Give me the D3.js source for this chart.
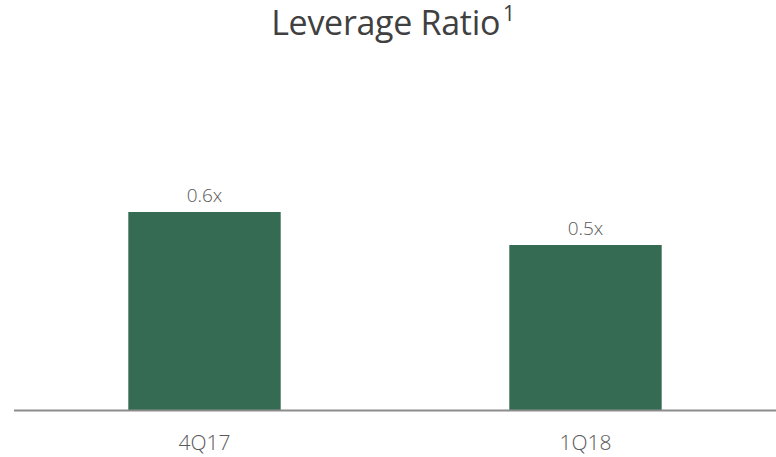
<!DOCTYPE html>
<html><head><meta charset="utf-8">
<script src="https://cdn.jsdelivr.net/npm/d3@7"></script>
<style>body{margin:0;background:#fff}svg{display:block}</style>
</head><body><svg id="c" width="776" height="457"></svg>
<script>
const categories = ["4Q17", "1Q18"];
const values = [0.6, 0.5];
const valueLabels = ["0.6x", "0.5x"];
const title = "Leverage Ratio";
const titleSup = "1";

const svg = d3.select("#c");
const x = d3.scaleBand().domain(categories).range([14, 776]).paddingInner(0.6).paddingOuter(0.3);
const y = d3.scaleLinear().domain([0, 1.2]).range([410, 14]);
const font = "'Open Sans', sans-serif";

const t = svg.append("text").attr("x", 393).attr("y", 35).attr("text-anchor", "middle")
  .attr("font-family", font).attr("font-size", 34).attr("letter-spacing", -0.3).attr("fill", "#404040");
t.append("tspan").text(title);
t.append("tspan").attr("dy", -14).attr("font-size", 21).attr("dx", 3).text(titleSup);

svg.selectAll("rect.bar").data(values).join("rect").attr("class", "bar")
  .attr("x", (d, i) => x(categories[i])).attr("width", x.bandwidth())
  .attr("y", d => y(d)).attr("height", d => y(0) - y(d)).attr("fill", "#356b53");

svg.selectAll("text.vl").data(values).join("text").attr("class", "vl")
  .attr("x", (d, i) => x(categories[i]) + x.bandwidth() / 2).attr("y", d => y(d) - 10)
  .attr("text-anchor", "middle").attr("font-family", font).attr("font-weight", 300)
  .attr("font-size", 19).attr("fill", "#595959").text((d, i) => valueLabels[i]);

const ax = svg.append("g").attr("transform", "translate(0,410)")
  .call(d3.axisBottom(x).tickSize(0).tickPadding(25).tickSizeOuter(0));
ax.select(".domain").attr("stroke", "#8c8c8c").attr("stroke-width", 2).attr("d", "M14,0.5H776");
ax.selectAll("text").attr("font-family", font).attr("font-weight", 300).attr("font-size", 21).attr("fill", "#595959");
</script></body></html>
